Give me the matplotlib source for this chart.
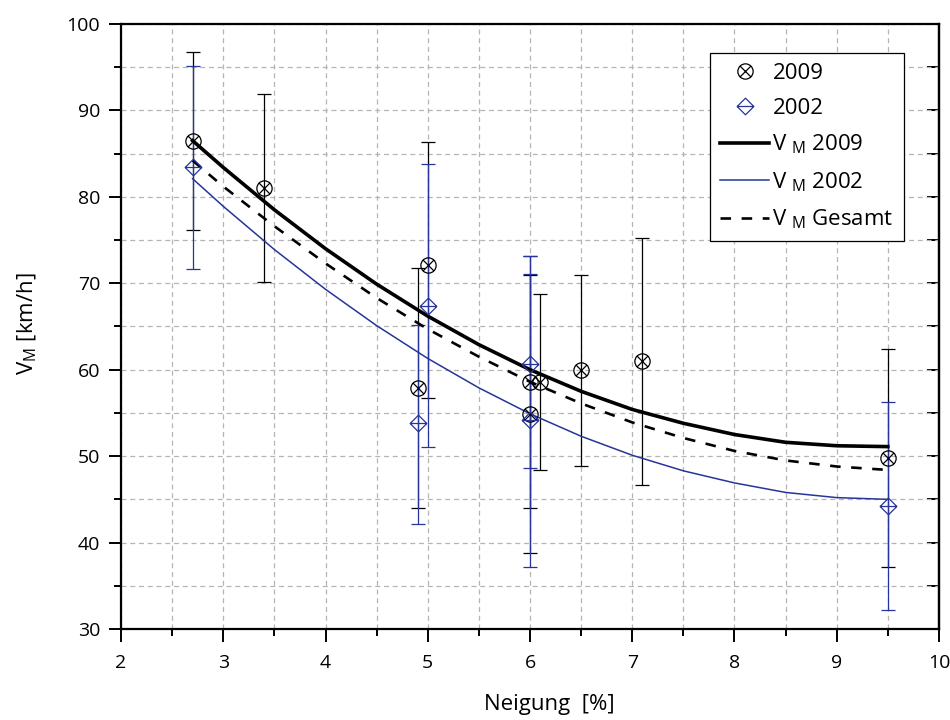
import matplotlib
matplotlib.use("Agg")
import matplotlib.pyplot as plt
from matplotlib.path import Path
from matplotlib.ticker import MultipleLocator

plt.rcParams['font.family'] = ['Open Sans', 'DejaVu Sans']
plt.rcParams['mathtext.fontset'] = 'custom'
plt.rcParams['mathtext.rm'] = 'Open Sans'
plt.rcParams['mathtext.it'] = 'Open Sans'

BLUE = '#27359a'

# measured points 2009 (x: Neigung [%], v: V_M [km/h], hi/lo: error bar ends)
x09 = [2.7, 3.4, 4.9, 5.0, 6.0, 6.0, 6.1, 6.5, 7.1, 9.5]
v09 = [86.5, 81.0, 57.9, 72.1, 58.6, 54.9, 58.6, 60.0, 61.0, 49.8]
hi09 = [96.8, 91.9, 71.8, 86.3, 73.2, 71.0, 68.8, 71.0, 75.2, 62.4]
lo09 = [76.2, 70.1, 44.0, 56.7, 44.0, 38.8, 48.4, 48.9, 46.7, 37.2]

# measured points 2002
x02 = [2.7, 4.9, 5.0, 6.0, 6.0, 9.5]
v02 = [83.4, 53.8, 67.4, 60.7, 54.2, 44.2]
hi02 = [95.1, 65.2, 83.8, 73.1, 71.1, 56.3]
lo02 = [71.7, 42.2, 51.0, 48.6, 37.2, 32.2]

# fitted curves
xfit = [2.7, 3.0, 3.5, 4.0, 4.5, 5.0, 5.5, 6.0, 6.5, 7.0, 7.5, 8.0, 8.5, 9.0, 9.5]
fit09 = [86.5, 83.4, 78.5, 74.0, 69.9, 66.2, 62.9, 60.0, 57.5, 55.4, 53.8, 52.5, 51.6, 51.2, 51.1]
fit02 = [82.1, 78.9, 73.9, 69.3, 65.1, 61.3, 57.9, 54.9, 52.3, 50.1, 48.3, 46.9, 45.8, 45.2, 45.0]
fit_all = [84.2, 81.2, 76.6, 72.3, 68.3, 64.7, 61.5, 58.6, 56.1, 53.9, 52.1, 50.6, 49.5, 48.8, 48.4]


def circle_x_marker():
    d = 0.707
    return Path.make_compound_path(
        Path.unit_circle(),
        Path([(-d, -d), (d, d)], [Path.MOVETO, Path.LINETO]),
        Path([(-d, d), (d, -d)], [Path.MOVETO, Path.LINETO]))


def diamond_bar_marker():
    diamond = Path([(0, 1), (1, 0), (0, -1), (-1, 0), (0, 1)],
                   [Path.MOVETO, Path.LINETO, Path.LINETO, Path.LINETO, Path.CLOSEPOLY])
    bar = Path([(-1, 0), (1, 0)], [Path.MOVETO, Path.LINETO])
    return Path.make_compound_path(diamond, bar)


fig = plt.figure(figsize=(9.5, 7.2), dpi=100)
ax = fig.add_axes([0.1274, 0.1264, 0.8610, 0.8403])

# error bars
err09 = [[v - l for v, l in zip(v09, lo09)], [h - v for v, h in zip(v09, hi09)]]
err02 = [[v - l for v, l in zip(v02, lo02)], [h - v for v, h in zip(v02, hi02)]]
ax.errorbar(x09, v09, yerr=err09, fmt='none', ecolor='black', elinewidth=0.9,
            capsize=4.7, capthick=0.9, zorder=2)
ax.errorbar(x02, v02, yerr=err02, fmt='none', ecolor=BLUE, elinewidth=0.9,
            capsize=4.7, capthick=0.9, zorder=2.1)

# fit curves
l09, = ax.plot(xfit, fit09, color='black', lw=2.6, zorder=3)
l02, = ax.plot(xfit, fit02, color=BLUE, lw=1.1, zorder=3)
lall, = ax.plot(xfit, fit_all, color='black', lw=1.9, dashes=(4, 4), zorder=3)

# markers
m09, = ax.plot(x09, v09, ls='none', marker=circle_x_marker(), ms=11,
               mfc='none', mec='black', mew=0.9, zorder=4)
m02, = ax.plot(x02, v02, ls='none', marker=diamond_bar_marker(), ms=12,
               mfc='none', mec=BLUE, mew=0.9, zorder=4)

ax.set_xlim(2, 10)
ax.set_ylim(30, 100)
ax.xaxis.set_major_locator(MultipleLocator(1))
ax.xaxis.set_minor_locator(MultipleLocator(0.5))
ax.yaxis.set_major_locator(MultipleLocator(10))
ax.yaxis.set_minor_locator(MultipleLocator(5))

ax.grid(True, which='both', color='#b5b5b5', ls=(0, (4, 3)), lw=0.9)
ax.set_axisbelow(True)

for sp in ax.spines.values():
    sp.set_linewidth(1.6)

ax.tick_params(which='both', direction='out', width=1.4, labelsize=14,
               top=False, right=False)
ax.tick_params(which='major', length=9)
ax.tick_params(which='minor', length=5)
ax.tick_params(axis='x', pad=9)
ax.tick_params(axis='y', pad=6)

# inward ticks on the right side
axr = ax.secondary_yaxis('right')
axr.yaxis.set_major_locator(MultipleLocator(10))
axr.yaxis.set_minor_locator(MultipleLocator(5))
axr.tick_params(which='both', direction='in', width=1.4, labelright=False)
axr.tick_params(which='major', length=9)
axr.tick_params(which='minor', length=9)
axr.spines['right'].set_linewidth(1.6)

ax.set_xlabel('Neigung  [%]', fontsize=16)
ax.set_ylabel(r'V$_{\mathrm{M}}$ [km/h]', fontsize=16)
ax.xaxis.set_label_coords(0.524, -0.108)
ax.yaxis.set_label_coords(-0.100, 0.505)

leg = ax.legend([m09, m02, l09, l02, lall],
                ['2009', '2002', r'V $_{\mathrm{M}}$ 2009', r'V $_{\mathrm{M}}$ 2002',
                 r'V $_{\mathrm{M}}$ Gesamt'],
                loc='upper right', bbox_to_anchor=(0.957, 0.952), borderaxespad=0,
                fontsize=16, frameon=True, fancybox=False, framealpha=1,
                edgecolor='black', handlelength=2.2, handletextpad=0.15,
                labelspacing=0.62, borderpad=0.45)
leg.get_frame().set_linewidth(0.9)
leg.set_zorder(5)

fig.savefig('out.png', dpi=100)
